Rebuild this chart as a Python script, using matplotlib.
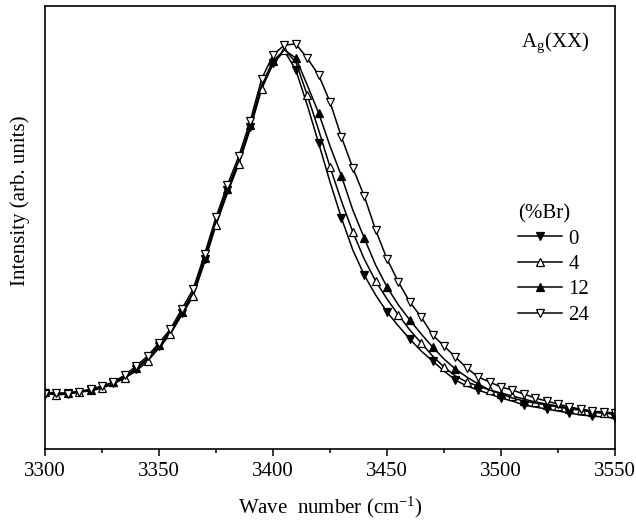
import numpy as np
import matplotlib
matplotlib.use("Agg")
import matplotlib.pyplot as plt

plt.rcParams["font.family"] = ["Liberation Serif", "DejaVu Serif"]
plt.rcParams["mathtext.fontset"] = "custom"
plt.rcParams["mathtext.rm"] = "Liberation Serif"
plt.rcParams["mathtext.it"] = "Liberation Serif:italic"

# ── Data (intensity in arb. units) ───────────────────────────────────────────
wave = np.arange(3300, 3551, 5)

br_0 = [56, 55, 56, 57, 59, 62, 66, 72, 80, 90, 103, 117, 136, 155, 190, 227,
        259, 287, 322, 362, 386,
        398, 379, 344, 306, 267, 231, 199, 174, 154, 137, 123, 110, 98, 88, 78,
        69, 63, 59, 55, 51, 48, 44, 42, 40, 38, 36, 34, 33, 32, 31]
br_4 = [56, 54, 55, 57, 58, 61, 65, 71, 78, 88, 101, 115, 134, 153, 187, 224,
        256, 285, 320, 360, 385,
        399, 387, 354, 319, 282, 248, 217, 190, 168, 150, 134, 119, 106, 93, 82,
        73, 67, 63, 59, 56, 53, 50, 47, 45, 43, 41, 39, 37, 36, 35]
br_12 = [57, 56, 56, 58, 59, 62, 67, 72, 81, 91, 104, 118, 137, 157, 191, 228,
         260, 289, 324, 364, 388,
         399, 391, 364, 336, 303, 273, 239, 211, 184, 162, 144, 129, 115, 102, 90,
         80, 72, 65, 59, 55, 51, 48, 46, 44, 42, 40, 39, 37, 36, 35]
br_24 = [55, 56, 55, 57, 60, 63, 67, 74, 83, 93, 106, 120, 140, 160, 195, 232,
         264, 293, 328, 370, 394,
         404, 405, 391, 374, 347, 312, 281, 253, 219, 190, 167, 147, 132, 114, 103,
         92, 81, 72, 67, 62, 59, 55, 51, 48, 45, 42, 40, 38, 37, 36]

labels = ["0", "4", "12", "24"]
series = [br_0, br_4, br_12, br_24]

# ── Plot ──────────────────────────────────────────────────────────────────────
styles = [
    dict(marker="v", mfc="black", markevery=2),
    dict(marker="^", mfc="white", markevery=(1, 2)),
    dict(marker="^", mfc="black", markevery=2),
    dict(marker="v", mfc="white", markevery=1),
]

fig = plt.figure(figsize=(6.36, 5.22), dpi=100)
ax = fig.add_axes([0.0708, 0.1398, 0.8962, 0.8487])

for vals, lab, st in zip(series, labels, styles):
    ax.plot(wave, vals, color="black", lw=1.1, marker=st["marker"],
            mfc=st["mfc"], mec="black", mew=0.9, ms=6,
            markevery=st["markevery"], label=lab)

ax.set_xlim(3300, 3550)
ax.set_ylim(0, 443)
ax.set_xticks(np.arange(3300, 3551, 50))
ax.set_xticks(np.arange(3325, 3550, 50), minor=True)
ax.set_yticks([])
ax.tick_params(axis="x", which="major", direction="out", length=5, width=1.1,
               labelsize=15, pad=4)
ax.tick_params(axis="x", which="minor", direction="out", length=3, width=1.1)
for sp in ax.spines.values():
    sp.set_linewidth(1.2)

ax.set_xlabel("Wave  number (cm$^{-1}$)", fontsize=15, labelpad=10)
ax.set_ylabel("Intensity (arb. units)", fontsize=15)
ax.yaxis.set_label_coords(-0.027, 0.56)

ax.text(0.955, 0.916, "A$_\\mathrm{g}$(XX)", transform=ax.transAxes,
        fontsize=15, ha="right", va="center")

leg = ax.legend(title="(%Br)", loc="upper left", bbox_to_anchor=(0.816, 0.572),
                frameon=False, fontsize=15, title_fontsize=15,
                handlelength=2.1, handletextpad=0.3, labelspacing=0.28,
                borderaxespad=0)
leg._legend_box.align = "left"

fig.savefig("out.png", dpi=100)
